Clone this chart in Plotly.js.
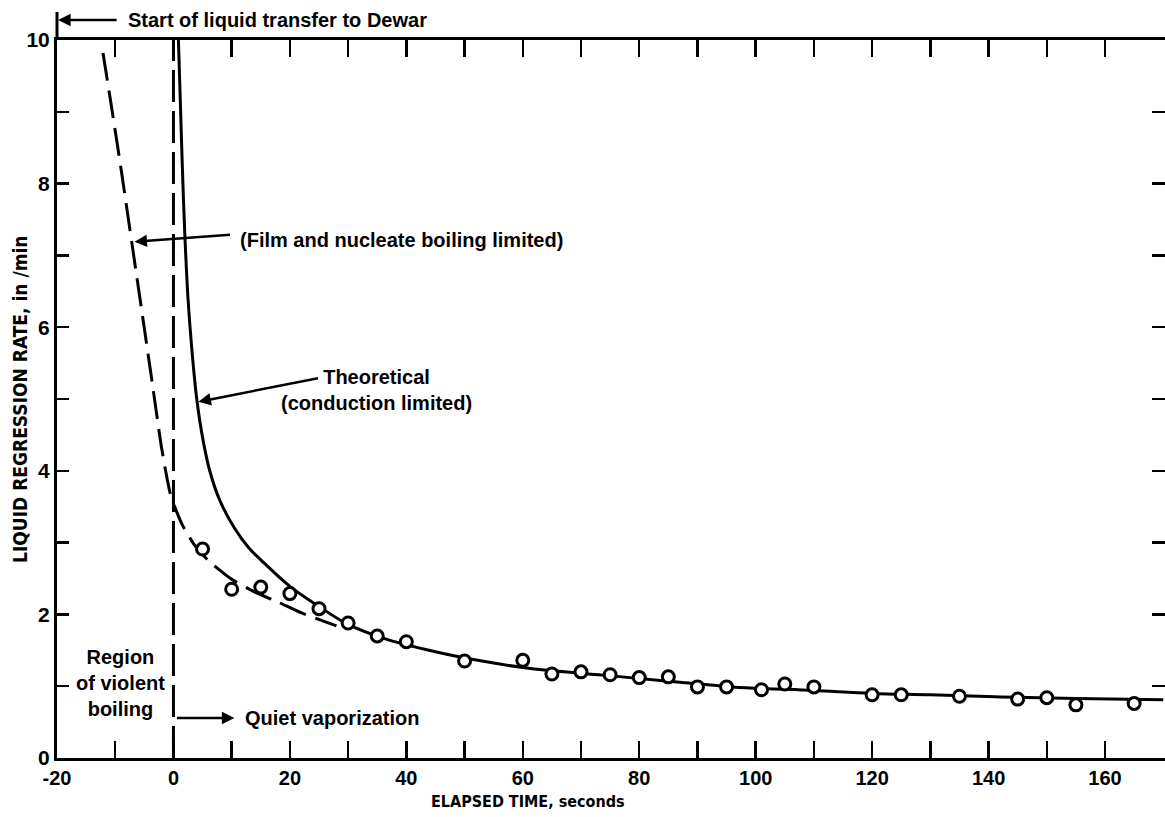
<!DOCTYPE html>
<html>
<head>
<meta charset="utf-8">
<script src="https://cdn.plot.ly/plotly-3.0.1.min.js"></script>
<style>
  html, body { margin: 0; padding: 0; background: #ffffff; overflow: hidden; }
  #chart { width: 1165px; height: 817px; }
</style>
</head>
<body>
<div id="chart"></div>
<script>
// Measured liquid regression rate (open circles)
const timeSec = [5, 10, 15, 20, 25, 30, 35, 40, 50, 60, 65, 70, 75, 80, 85, 90, 95, 101, 105, 110, 120, 125, 135, 145, 150, 155, 165];
const rate    = [2.91, 2.35, 2.38, 2.29, 2.08, 1.88, 1.70, 1.62, 1.35, 1.36, 1.17, 1.20, 1.16, 1.12, 1.13, 0.99, 0.99, 0.95, 1.03, 0.99, 0.88, 0.88, 0.86, 0.82, 0.84, 0.74, 0.76];

// Theoretical (conduction limited) solid curve
const theoryX = [0.85, 1.2, 1.5, 1.95, 2.5, 3.1, 4.0, 5.1, 6.3, 8.0, 10.5, 13, 15, 20, 25, 30, 36, 45, 53, 61, 73, 85, 96, 110, 120, 130, 142, 155, 170];
const theoryY = [10.0, 9.1, 8.3, 7.3, 6.4, 5.75, 5.0, 4.42, 3.98, 3.58, 3.2, 2.92, 2.76, 2.39, 2.11, 1.86, 1.67, 1.48, 1.35, 1.25, 1.16, 1.07, 0.99, 0.94, 0.90, 0.88, 0.85, 0.83, 0.81];

// Film and nucleate boiling limited (dashed curve)
const boilX = [-12.1, -10.6, -8.9, -7.1, -5.3, -3.6, -2.1, -1.0, -0.3, 0.2, 1.5, 3.5, 6, 10, 14, 18, 22, 26, 28];
const boilY = [9.82, 9.05, 8.15, 7.15, 6.15, 5.2, 4.35, 3.85, 3.6, 3.5, 3.25, 2.98, 2.75, 2.49, 2.31, 2.17, 2.02, 1.9, 1.84];

// Boundary between violent boiling and quiet vaporization
const boundaryX = [0, 0];
const boundaryY = [0, 10];

// Axis ticks
const xTickVals = [-20, -10, 0, 10, 20, 30, 40, 50, 60, 70, 80, 90, 100, 110, 120, 130, 140, 150, 160];
const xTickText = ['-20', '', '0', '', '20', '', '40', '', '60', '', '80', '', '100', '', '120', '', '140', '', '160'];
const yTickVals = [0, 1, 2, 3, 4, 5, 6, 7, 8, 9, 10];
const yTickText = ['0', '', '2', '', '4', '', '6', '', '8', '', '10'];

const FONT = '"Liberation Sans", Arial, Helvetica, sans-serif';
const NARROW = '"Liberation Sans Narrow", "Arial Narrow", "DejaVu Sans Condensed", "Liberation Sans", Arial, sans-serif';
const INK = '#000000';

const traces = [
  {
    x: theoryX, y: theoryY, type: 'scatter', mode: 'lines',
    line: { color: INK, width: 3, shape: 'spline', smoothing: 1 }, hoverinfo: 'skip', showlegend: false
  },
  {
    x: boilX, y: boilY, type: 'scatter', mode: 'lines',
    line: { color: INK, width: 3, dash: '28px,10px', shape: 'spline', smoothing: 0.6 }, hoverinfo: 'skip', showlegend: false
  },
  {
    x: boundaryX, y: boundaryY, type: 'scatter', mode: 'lines',
    line: { color: INK, width: 3, dash: '32px,9px' }, hoverinfo: 'skip', showlegend: false
  },
  {
    x: timeSec, y: rate, type: 'scatter', mode: 'markers',
    marker: { symbol: 'circle', size: 12, color: '#ffffff', line: { color: INK, width: 3 } },
    showlegend: false
  },
  {
    x: [null], y: [null], yaxis: 'y2', type: 'scatter', mode: 'markers',
    hoverinfo: 'skip', showlegend: false
  }
];

const annFont = { family: FONT, size: 20, color: INK, weight: 'bold' };

const layout = {
  width: 1165, height: 817,
  margin: { l: 57, r: 0, t: 40, b: 59, pad: 0 },
  paper_bgcolor: '#ffffff', plot_bgcolor: '#ffffff',
  showlegend: false,
  font: { family: FONT, color: INK },
  xaxis: {
    range: [-20, 170.3], autorange: false,
    tickmode: 'array', tickvals: xTickVals, ticktext: xTickText,
    ticks: 'inside', ticklen: 17, tickwidth: 2.5, tickcolor: INK,
    showline: true, linecolor: INK, linewidth: 3, mirror: 'ticks',
    showgrid: false, zeroline: false,
    tickfont: { family: FONT, size: 20, color: INK, weight: 'bold' }
  },
  yaxis: {
    range: [0, 10], autorange: false,
    tickmode: 'array', tickvals: yTickVals, ticktext: yTickText,
    ticks: 'inside', ticklen: 12, tickwidth: 2.5, tickcolor: INK,
    showline: true, linecolor: INK, linewidth: 3, mirror: false,
    showgrid: false, zeroline: false,
    tickfont: { family: FONT, size: 21, color: INK, weight: 'bold' }
  },
  yaxis2: {
    overlaying: 'y', side: 'right', anchor: 'x',
    range: [0, 10], autorange: false,
    tickmode: 'array', tickvals: yTickVals,
    ticks: 'inside', ticklen: 13, tickwidth: 2.5, tickcolor: INK,
    showticklabels: false, showline: false, showgrid: false, zeroline: false
  },
  shapes: [
    { type: 'line', xref: 'paper', yref: 'paper', x0: 0, x1: 0, y0: 1, y1: 1.039,
      line: { color: INK, width: 3 } }
  ],
  annotations: [
    // Axis titles
    { text: 'ELAPSED TIME, seconds', xref: 'paper', yref: 'paper', x: 0.425, y: -0.061,
      showarrow: false, xanchor: 'center', yanchor: 'middle',
      font: { family: NARROW, size: 16, color: INK, weight: 'bold' } },
    { text: 'LIQUID REGRESSION RATE, in /min', xref: 'paper', yref: 'paper', x: -0.0334, y: 0.5,
      textangle: -90, showarrow: false, xanchor: 'center', yanchor: 'middle',
      font: { family: NARROW, size: 19, color: INK, weight: 'bold' } },

    // Start of liquid transfer
    { text: 'Start of liquid transfer to Dewar', xref: 'paper', yref: 'paper', x: 0.0623, y: 1.0279,
      showarrow: false, xanchor: 'left', yanchor: 'middle', font: annFont },
    { text: '', xref: 'paper', yref: 'paper', x: 0.001, y: 1.0279, ax: 60, ay: 0,
      showarrow: true, arrowhead: 2, arrowsize: 1, arrowwidth: 2.5, arrowcolor: INK, standoff: 0 },

    // Film and nucleate boiling
    { text: '(Film and nucleate boiling limited)', xref: 'x', yref: 'y', x: 11.15, y: 7.21,
      showarrow: false, xanchor: 'left', yanchor: 'middle', font: annFont },
    { text: '', xref: 'x', yref: 'y', x: -6.69, y: 7.19, ax: 97, ay: -7,
      showarrow: true, arrowhead: 2, arrowsize: 1, arrowwidth: 2.5, arrowcolor: INK, standoff: 0 },

    // Theoretical
    { text: 'Theoretical<br>(conduction limited)', xref: 'x', yref: 'y', x: 34.8, y: 5.13,
      showarrow: false, xanchor: 'center', yanchor: 'middle', align: 'center', font: annFont },
    { text: '', xref: 'x', yref: 'y', x: 4.29, y: 4.96, ax: 121, ay: -24,
      showarrow: true, arrowhead: 2, arrowsize: 1, arrowwidth: 2.5, arrowcolor: INK, standoff: 0 },

    // Region of violent boiling
    { text: 'Region<br>of violent<br>boiling', xref: 'x', yref: 'y', x: -9.1, y: 1.04,
      showarrow: false, xanchor: 'center', yanchor: 'middle', align: 'center', font: annFont },

    // Quiet vaporization
    { text: 'Quiet vaporization', xref: 'x', yref: 'y', x: 12.0, y: 0.557,
      showarrow: false, xanchor: 'left', yanchor: 'middle', font: annFont },
    { text: '', xref: 'x', yref: 'y', x: 10.46, y: 0.557, ax: -59, ay: 0,
      showarrow: true, arrowhead: 2, arrowsize: 1, arrowwidth: 2.5, arrowcolor: INK, standoff: 0 }
  ]
};

Plotly.newPlot('chart', traces, layout, { displayModeBar: false, staticPlot: true });
</script>
</body>
</html>
